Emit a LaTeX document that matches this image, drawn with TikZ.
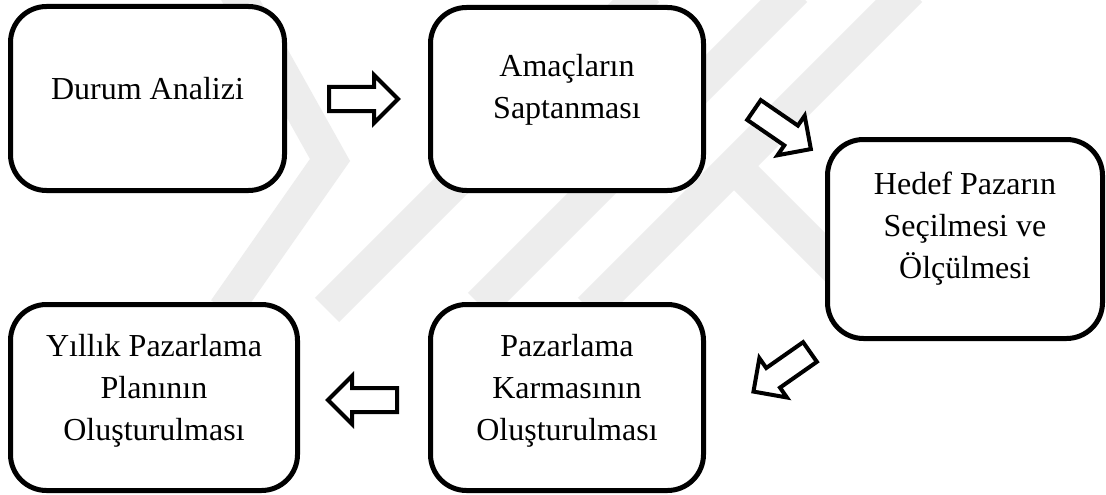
\documentclass[tikz,border=0pt]{standalone}
\usepackage{fontspec}
\setmainfont{Liberation Serif}
\begin{document}
\begin{tikzpicture}[x=1pt,y=-1pt,
  box/.style={draw=black, line width=5pt, rounded corners=36pt, fill=white, inner sep=0pt},
  lbl/.style={font=\fontsize{32}{42}\selectfont, align=center, inner sep=0pt},
  blk/.style={draw=black, line width=4pt, fill=white, line join=miter},
  wm/.style={draw=black!7, line width=34pt, line join=miter}
]
\tikzset{blockarrow/.pic={\path[blk] (0,-12) -- (45,-12) -- (45,-24) -- (69,0) -- (45,24) -- (45,12) -- (0,12) -- cycle;}}
\useasboundingbox (0,0) rectangle (1106,495);
\fill[white] (0,0) rectangle (1106,495);
% faint watermark
\begin{scope}
\clip (0,0) rectangle (1106,495);
\draw[wm] (235,-10) -- (330,160) -- (225,310);
\draw[wm] (327,310) -- (647,-10);
\draw[wm] (480,305) -- (795,-10);
\draw[wm] (590,310) -- (910,-10);
\draw[wm] (740,172) -- (850,282);
\end{scope}
% boxes
\node[box, minimum width=274pt, minimum height=184pt] (b1) at (147.5,98.5) {};
\node[box, minimum width=273pt, minimum height=183pt] (b2) at (567,99) {};
\node[box, minimum width=275pt, minimum height=199pt] (b3) at (965,239) {};
\node[box, minimum width=273pt, minimum height=186pt] (b4) at (567,397.5) {};
\node[box, minimum width=287pt, minimum height=186pt] (b5) at (154,397.5) {};
% labels
\node[lbl] (t1) at ([yshift=10pt]b1.center) {Durum Analizi};
\node[lbl] (t2) at ([yshift=9.5pt]b2.center) {Amaçların\\Saptanması};
\node[lbl] (t3) at ([yshift=10.5pt]b3.center) {Hedef Pazarın\\Seçilmesi ve\\Ölçülmesi};
\node[lbl] (t4) at ([yshift=7pt]b4.center) {Pazarlama\\Karmasının\\Oluşturulması};
\node[lbl] (t5) at ([yshift=7pt]b5.center) {Yıllık Pazarlama\\Planının\\Oluşturulması};
% block arrows
\coordinate (a1) at (329,99);
\coordinate (a2) at (754,110);
\coordinate (a3) at (810,352);
\coordinate (a4) at (397,400);
\pic[rotate=0] at (a1) {blockarrow};
\pic[rotate=-34.5] at (a2) {blockarrow};
\pic[rotate=-145] at (a3) {blockarrow};
\pic[rotate=180] at (a4) {blockarrow};
\end{tikzpicture}
\end{document}
